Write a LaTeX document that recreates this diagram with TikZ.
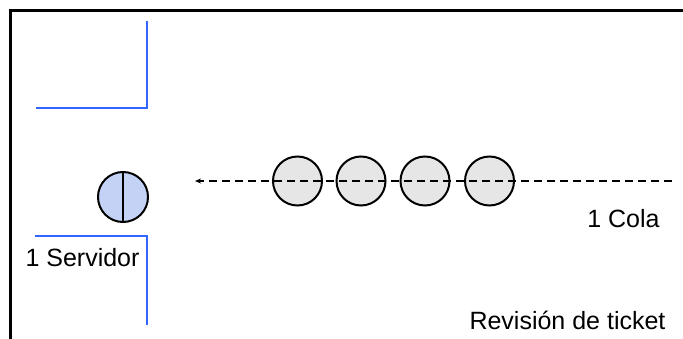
\documentclass[tikz,border=0pt]{standalone}
\usepackage{fontspec}
\setmainfont{Liberation Sans}
\usetikzlibrary{arrows.meta}
\definecolor{wallblue}{HTML}{3366FF}
\definecolor{srvfill}{HTML}{C4D2F6}
\definecolor{qfill}{HTML}{E6E6E6}
\tikzset{
  frameline/.style={line width=3.2pt, black},
  wall/.style={line width=1.7pt, wallblue},
  qcirc/.style={circle, draw=black, line width=2pt, fill=qfill, minimum size=49pt, inner sep=0pt},
  srvcirc/.style={circle, draw=black, line width=2pt, fill=srvfill, minimum size=50pt, inner sep=0pt},
  flow/.style={dashed, dash pattern=on 8pt off 5pt, line width=1.8pt, -{Stealth[length=6pt,width=5pt]}},
  lbl/.style={font=\fontsize{25}{28}\selectfont, inner sep=0pt}
}
\begin{document}
\begin{tikzpicture}[x=1pt,y=-1pt]
\useasboundingbox (0,0) rectangle (683,339);
% frame
\draw[frameline] (9,10.5) -- (683,10.5);
\draw[frameline] (10.5,9) -- (10.5,339);
% walls
\draw[wall] (36,108) -- (147,108) -- (147,21);
\draw[wall] (35,236) -- (147,236) -- (147,325);
% server
\node[srvcirc] (srv) at (123,197) {};
\draw[line width=2pt] (srv.north) -- (srv.south);
% queue
\node[qcirc] (c1) at (297.5,181) {};
\node[qcirc] (c2) at (361,181) {};
\node[qcirc] (c3) at (425,181) {};
\node[qcirc] (c4) at (489.5,181) {};
\coordinate (qstart) at (672,181);
\coordinate (qend) at (195,181);
\draw[flow] (qstart) -- (qend);
% labels
\node[lbl] (lsrv) at (82.5,258) {1 Servidor};
\node[lbl] (lcola) at (623.5,219) {1 Cola};
\node[lbl] (lrev) at (567.5,320) {Revisión de ticket};
\end{tikzpicture}
\end{document}
